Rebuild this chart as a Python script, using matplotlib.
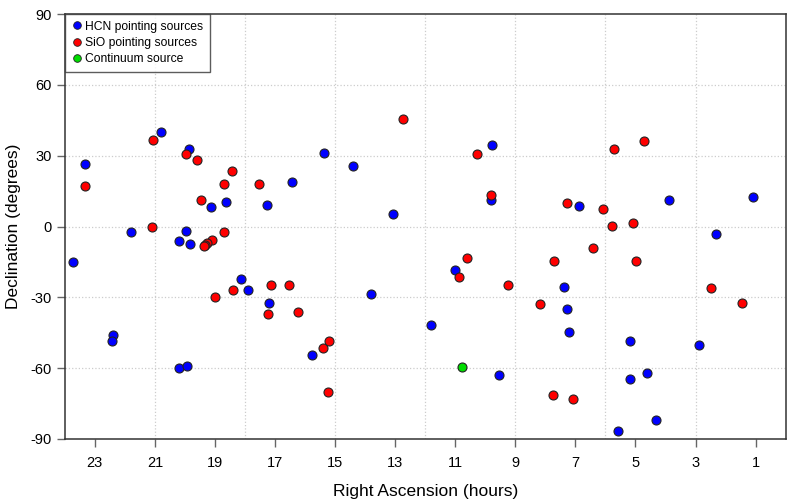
import matplotlib
matplotlib.use("Agg")
import matplotlib.pyplot as plt
from matplotlib.lines import Line2D

plt.rcParams['font.family'] = ['Liberation Sans', 'DejaVu Sans']
plt.rcParams['axes.unicode_minus'] = False

# HCN pointing sources (RA hours, Dec degrees)
hcn_ra = [23.34, 20.79, 19.86, 15.37, 14.41, 16.42, 17.26, 18.63, 19.12, 21.78,
          19.97, 20.19, 19.84, 13.06, 9.76, 9.80, 6.88, 3.89, 1.10, 2.32,
          23.74, 18.14, 17.90, 17.20, 13.82, 22.39, 22.44, 20.20, 19.93, 15.76,
          11.00, 7.38, 7.28, 11.82, 7.21, 5.18, 2.89, 9.54, 5.17, 4.61,
          4.31, 5.59]
hcn_dec = [26.3, 40.1, 32.9, 31.3, 25.7, 18.9, 8.9, 10.5, 8.2, -2.2,
           -1.8, -6.2, -7.6, 5.2, 34.5, 11.3, 8.5, 11.4, 12.6, -3.0,
           -15.2, -22.3, -27.0, -32.3, -28.4, -45.9, -48.6, -60.0, -59.1, -54.5,
           -18.3, -25.8, -34.9, -41.8, -44.7, -48.6, -50.0, -62.8, -64.4, -62.1,
           -81.9, -86.4]

# SiO pointing sources
sio_ra = [23.33, 21.06, 19.97, 19.59, 18.44, 18.71, 17.54, 19.47, 21.11, 18.71,
          19.09, 19.26, 19.33, 19.38, 12.74, 10.27, 9.80, 5.72, 4.71, 7.27,
          6.07, 5.78, 5.09, 6.41, 18.39, 18.99, 17.13, 16.54, 17.24, 16.22,
          15.40, 15.20, 15.24, 10.62, 10.86, 7.70, 4.99, 9.23, 2.49, 8.17,
          1.44, 7.74, 7.09]
sio_dec = [17.2, 36.7, 30.7, 28.1, 23.5, 17.8, 17.8, 11.3, -0.3, -2.2,
           -5.6, -7.0, -7.8, -8.4, 45.5, 30.7, 13.3, 32.8, 36.2, 10.0,
           7.5, 0.3, 1.3, -9.2, -27.1, -29.8, -24.8, -24.6, -37.1, -36.3,
           -51.4, -48.3, -70.1, -13.4, -21.3, -14.7, -14.8, -24.8, -26.1, -32.9,
           -32.6, -71.3, -73.0]

# Continuum source
cont_ra = [10.76]
cont_dec = [-59.7]

x_ticks = [23, 21, 19, 17, 15, 13, 11, 9, 7, 5, 3, 1]
x_grid = [21, 18, 15, 12, 9, 6, 3]
y_ticks = [-90, -60, -30, 0, 30, 60, 90]

fig = plt.figure(figsize=(8, 5), dpi=100)
ax = fig.add_axes([0.081, 0.122, 0.901, 0.85])

grid_kw = dict(color='#cccccc', linestyle=':', linewidth=0.9, zorder=0)
for g in x_grid:
    ax.axvline(g, **grid_kw)
for g in y_ticks[1:-1]:
    ax.axhline(g, **grid_kw)

pt_kw = dict(s=42, edgecolors='#222222', linewidths=0.8, zorder=3)
ax.scatter(hcn_ra, hcn_dec, c='#0000ff', **pt_kw)
ax.scatter(sio_ra, sio_dec, c='#ff0000', **pt_kw)
ax.scatter(cont_ra, cont_dec, c='#00dd00', **pt_kw)

ax.set_xlim(24, 0)
ax.set_ylim(-90, 90)
ax.set_xticks(x_ticks)
ax.set_yticks(y_ticks)
ax.tick_params(axis='both', direction='out', length=6, width=1, color='#666666',
               labelsize=10.5, labelcolor='black')
ax.tick_params(axis='x', pad=6)
for sp in ax.spines.values():
    sp.set_color('#333333')
    sp.set_linewidth(1.1)

ax.set_xlabel('Right Ascension (hours)', fontsize=12.5, labelpad=10)
ax.set_ylabel('Declination (degrees)', fontsize=12.5, labelpad=7)

handles = [
    Line2D([], [], marker='o', linestyle='', markerfacecolor=col,
           markeredgecolor='#222222', markeredgewidth=0.6, markersize=5.5)
    for col in ['#0000ff', '#ff0000', '#00dd00']
]
leg = ax.legend(handles, ['HCN pointing sources', 'SiO pointing sources', 'Continuum source'],
                loc='upper left', bbox_to_anchor=(0, 1), borderaxespad=0,
                fontsize=8.7, frameon=True, fancybox=False, handletextpad=0.15,
                handlelength=1.0, labelspacing=0.35, borderpad=0.55)
leg.get_frame().set_edgecolor('#333333')
leg.get_frame().set_linewidth(1.0)

fig.savefig('out.png', dpi=100)
